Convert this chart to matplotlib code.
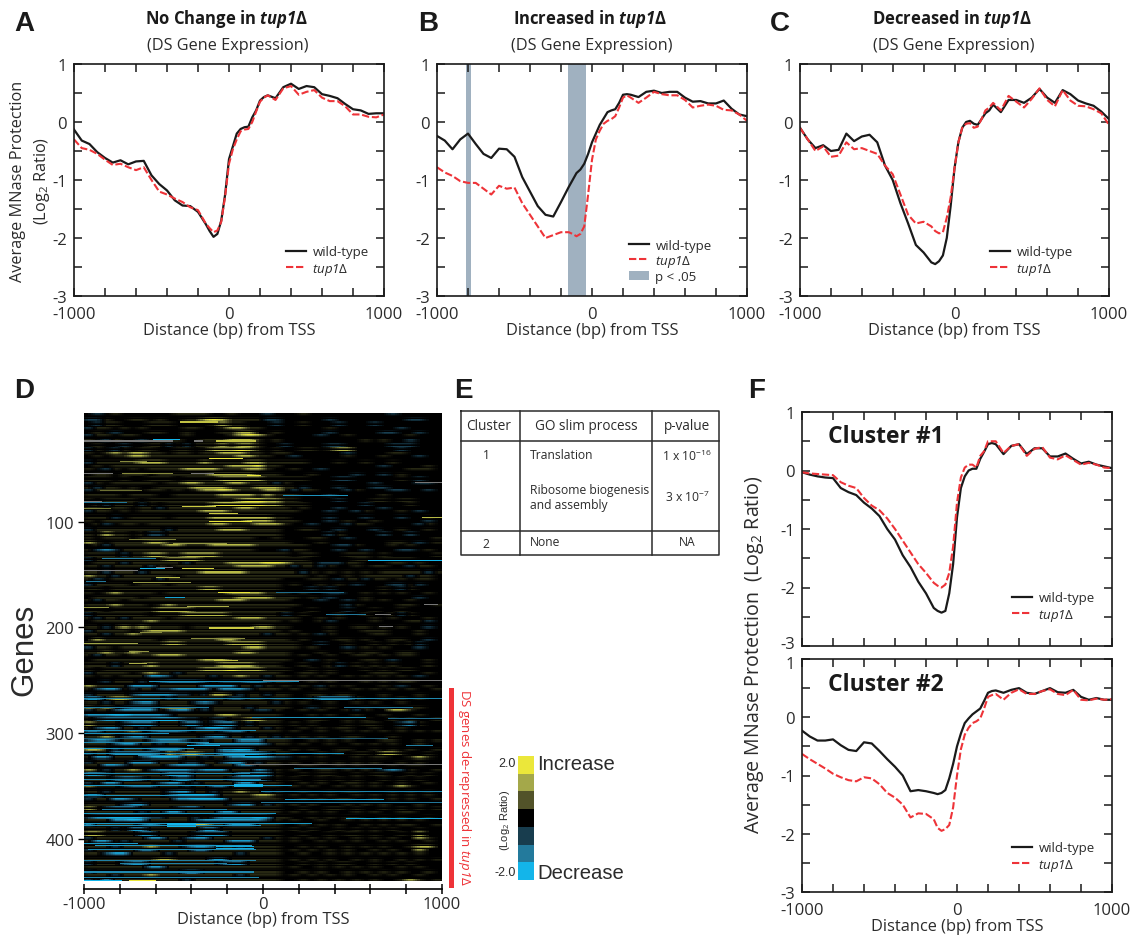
import numpy as np
import matplotlib
matplotlib.use('Agg')
import matplotlib.pyplot as plt
from matplotlib.colors import LinearSegmentedColormap, ListedColormap
from matplotlib.transforms import ScaledTranslation

plt.rcParams['font.family'] = ['Open Sans', 'DejaVu Sans']
plt.rcParams['mathtext.fontset'] = 'custom'
plt.rcParams['mathtext.rm'] = 'Open Sans'
plt.rcParams['mathtext.it'] = 'Open Sans:italic'
plt.rcParams['mathtext.cal'] = 'Open Sans:italic'
plt.rcParams['mathtext.bf'] = 'Open Sans:bold'
plt.rcParams['mathtext.bfit'] = 'Open Sans:italic:bold'

W, H = 1133, 937

# distance from TSS, one reading every 50 bp, every 25 bp around the dip
dist = [-1000,-950,-900,-850,-800,-750,-700,-650,-600,-550,-500,-450,-400,-350,-300,-250,-200,-150,
        -125,-100,-75,-50,-25,0,25,50,75,100,125,150,175,200,225,250,
        300,350,400,450,500,550,600,650,700,750,800,850,900,950,1000]

a_wt = [-0.13,-0.32,-0.38,-0.52,-0.62,-0.70,-0.66,-0.73,-0.68,-0.67,-0.92,-1.07,-1.18,-1.35,-1.44,-1.45,-1.55,-1.76,
        -1.88,-1.98,-1.93,-1.70,-1.25,-0.64,-0.42,-0.20,-0.12,-0.09,-0.08,0.08,0.20,0.37,0.43,0.46,
        0.41,0.60,0.66,0.57,0.62,0.60,0.48,0.45,0.41,0.31,0.22,0.20,0.14,0.15,0.15]
a_ko = [-0.30,-0.45,-0.48,-0.55,-0.65,-0.74,-0.72,-0.78,-0.83,-0.78,-1.00,-1.20,-1.25,-1.32,-1.38,-1.47,-1.52,-1.75,
        -1.83,-1.90,-1.87,-1.72,-1.28,-0.72,-0.47,-0.30,-0.16,-0.13,-0.12,0.00,0.18,0.35,0.42,0.46,
        0.38,0.58,0.62,0.47,0.52,0.55,0.42,0.36,0.36,0.27,0.13,0.13,0.09,0.08,0.13]
b_wt = [-0.24,-0.32,-0.47,-0.30,-0.20,-0.38,-0.55,-0.62,-0.46,-0.47,-0.60,-0.95,-1.20,-1.45,-1.60,-1.63,-1.38,-1.12,
        -1.00,-0.88,-0.82,-0.72,-0.55,-0.35,-0.20,-0.05,0.06,0.17,0.20,0.22,0.33,0.47,0.48,0.47,
        0.43,0.52,0.54,0.50,0.52,0.52,0.42,0.35,0.36,0.32,0.32,0.37,0.23,0.13,0.10]
b_ko = [-0.78,-0.87,-0.93,-1.02,-1.05,-1.05,-1.15,-1.25,-1.10,-1.15,-1.13,-1.40,-1.60,-1.80,-2.00,-1.95,-1.90,-1.90,
        -1.93,-1.97,-1.93,-1.80,-1.25,-0.65,-0.30,-0.15,-0.03,0.02,0.05,0.10,0.25,0.42,0.46,0.42,
        0.33,0.42,0.52,0.48,0.46,0.46,0.38,0.25,0.28,0.30,0.28,0.21,0.20,0.13,0.02]
c_wt = [-0.10,-0.30,-0.45,-0.40,-0.50,-0.48,-0.20,-0.33,-0.25,-0.22,-0.35,-0.75,-1.00,-1.40,-1.75,-2.12,-2.25,-2.42,
        -2.45,-2.40,-2.30,-2.00,-1.45,-0.80,-0.35,-0.10,0.00,0.02,-0.03,-0.05,0.05,0.15,0.20,0.30,
        0.17,0.38,0.38,0.33,0.42,0.57,0.42,0.33,0.55,0.48,0.37,0.32,0.28,0.18,0.05]
c_ko = [-0.10,-0.30,-0.50,-0.42,-0.60,-0.58,-0.35,-0.47,-0.45,-0.50,-0.55,-0.75,-0.90,-1.25,-1.60,-1.75,-1.72,-1.80,
        -1.88,-1.92,-1.90,-1.65,-1.30,-0.80,-0.35,-0.10,-0.03,-0.02,-0.10,-0.08,0.05,0.20,0.25,0.33,
        0.20,0.45,0.35,0.25,0.40,0.58,0.38,0.27,0.55,0.37,0.28,0.27,0.22,0.15,-0.05]
f1_wt = [-0.03,-0.07,-0.10,-0.12,-0.13,-0.30,-0.37,-0.42,-0.55,-0.65,-0.78,-1.00,-1.18,-1.45,-1.65,-1.90,-2.10,-2.35,
         -2.40,-2.43,-2.40,-2.10,-1.60,-0.80,-0.30,-0.10,0.00,0.03,0.03,0.20,0.32,0.45,0.47,0.45,
         0.28,0.42,0.45,0.28,0.38,0.38,0.24,0.24,0.29,0.20,0.12,0.15,0.10,0.07,0.04]
f1_ko = [-0.03,-0.05,-0.06,-0.07,-0.08,-0.20,-0.26,-0.30,-0.47,-0.60,-0.68,-0.82,-1.00,-1.20,-1.40,-1.60,-1.75,-1.92,
         -1.97,-2.00,-1.95,-1.75,-1.30,-0.55,-0.12,0.05,0.10,0.10,0.05,0.25,0.33,0.50,0.50,0.50,
         0.30,0.42,0.45,0.25,0.37,0.40,0.22,0.19,0.26,0.18,0.10,0.13,0.10,0.05,0.04]
f2_wt = [-0.23,-0.33,-0.40,-0.40,-0.38,-0.48,-0.56,-0.58,-0.43,-0.45,-0.58,-0.72,-0.85,-1.00,-1.27,-1.25,-1.27,-1.30,
         -1.32,-1.30,-1.25,-1.05,-0.80,-0.50,-0.28,-0.10,-0.02,0.05,0.10,0.15,0.28,0.42,0.45,0.46,
         0.42,0.47,0.50,0.42,0.40,0.45,0.50,0.43,0.42,0.47,0.35,0.30,0.33,0.30,0.30]
f2_ko = [-0.63,-0.72,-0.80,-0.88,-0.97,-1.03,-1.08,-1.10,-1.03,-1.05,-1.15,-1.30,-1.38,-1.50,-1.72,-1.65,-1.66,-1.75,
         -1.90,-1.95,-1.92,-1.85,-1.55,-1.00,-0.55,-0.30,-0.18,-0.10,-0.07,-0.02,0.15,0.35,0.38,0.40,
         0.30,0.42,0.48,0.40,0.40,0.45,0.48,0.40,0.38,0.47,0.30,0.29,0.32,0.30,0.31]

# significant windows in panel B
b_bands = [(-813, -778), (-153, -37)]

# heat map, hand: 40 columns of 50 bp, one line per 4 genes
# . none  , faint yellow  y yellow  Y bright yellow  - faint blue  b blue  B bright blue
heat_rows = [
    ".-.,......,,,,..,...-...,.........-.....",
    "--,..,,.,..,,yYy,,,,--.....-........--..",
    ".-,,...,,,....,y,,...-..,...-...-.......",
    "-,,.,.,....,,..,yy,,.......,.......-....",
    ".,.-...,,..,...,,yy..,.....-.....--..-..",
    "-,,.,,.....,....,yYy,.....-..,......,...",
    ",.-,..-.,,,..,,,yyy,.,.........,.,..-...",
    ".,..-..,,-,-,,,y,yy,..-....--.....---...",
    "-,.-,.,,..,,.,yyyYy,.,..,,.,yy.....-....",
    ",.,y,yy,,.,,.,,yyy,,.,,......-....,,....",
    ".,.,,yy,,,,,,,,,,yy,,..-.....,...,...-..",
    "-,,,,,yyy,,,,y,,,,yy,,,,,...,..,..,.....",
    ".,.,,,,,,,,,,,,,yyyY,,...........-....,.",
    ",.-,.,.,,,,yyyy,,,yy,..,..-.........,,,.",
    ".,,.,,,.,,,,,,yyyyy,,,...,....-..-.,....",
    ",,,.,..,,,.,,,,yyyyy,,,,,...--.....,.-..",
    "-,.,,,,,.,,yy,,,yy,,,-,.........-....--.",
    ",-,,.,..,,,,yyyy,,,yyy,,-...-...--......",
    "-,,,,,.,,.,.,yyYy,,,yy,-,,...-,...--..-.",
    ",,,,.,,,..,,,,,yyyy,y,,,...-.....,......",
    ",.,,,,.,,,,,,,,,,yYYyy,,....-...,,.,,...",
    ".,-,,,-,.,,,,,yYYYYYyy,,,......-....,...",
    ",,.,,.,,-,,,,,,,,yy,,,,.,...-....-......",
    "-,,.,.,,,,,,,yyy,,,,,,,,...-..-,...,.-..",
    ",,,-.,,,,.,,,,yyyyyyy,,....-...-...-..,.",
    ",.,,,,,,,,,,,,,,,,yyy,,,...-.,..,.....-.",
    ".,-.,,.,,,,,,,yy,,,yyy,..-...-,,.....-,.",
    "-,,,,,,,,-,,,,,yyy,,,,..,,..-...-..,..,.",
    ",.y,,.,--,,,,,,,,,,,,,.....-,....-..-...",
    ",.,,,.,,,,,,,,,,,,,..,...,,..-.........,",
    "y,.,,,,yy,,,,,,,,,,,,,,...,.......,,.-.,",
    ".,-,,,,,,yy,,,yyyyy,,,,,,...--,...,.,...",
    ",-b-,,,,,,,,,,,,,,,...-,,...-..-...--.,.",
    ",,,,-,,yy,,yyyy,,,,,,,,.,,...,,,.,.....,",
    "-,,,,,,,,yyyy,,,,,,,,,,,,.....,,.,,,,...",
    ".,,,-,,,,,,-,,,,yyyyYYy,,,---,,...,,.,..",
    ",,-,,,,-,.,,,,,,,yyyy,,-,,-,..,.,,..-,,.",
    ",,-,,,-,,,,,,yyyyy,,,,,,-,.,.,.,.,,,,,-,",
    "y,,-,,,,,,.,,,,,,,,,,,,,,.,..,.,,,,,-,,.",
    ",-.,,,,,-,,,,,,,,,,,,,...,,.-,,-,,.,.,,.",
    "-,,,,.,,,.,,,,,,,,,,,,.,..,.,.-...--,-..",
    ",,.,,,,,,,,,,yy,,,,,,,...-.-.....,.-,...",
    ",.,y,,,,.,,,,,,,yyyy,,,.,..--..,.,.,..,.",
    ".,,,,,.,,,,,,,,,,yyyy,,,.,.-...,.....-..",
    ",-,,.,,,,,,,,,,yyy,,,,,...-..-.,.,..,...",
    ",,,y,,,.,y,,,,,,,,,,,,,,.....-,....,,..,",
    ",,.,,,,,yyyy,,,,,,,,,,,..,...-..,..,....",
    "-,,,,,,.,,,yyyyy,,,,,,-.,...,..,..,-,...",
    ",-,,-,,,,.,,,,,,,yyy,,,,..,.,...,.,...,.",
    ".,,,,,,y,,,,,,,,,,,,,,.,..,-....,...,,-.",
    ",,-,y,y,,,,.,,,,,,,yy,,....,..,,.,.,..-.",
    "-,,,,.,yyyy,,,,,,,,,,,.,...,...,,,...,..",
    ",,-,,y,,,,,,,,,,,,,,-,,.,.-,....,,...,..",
    ".y,,,,,,.,,,,,,yy,,,,,,.,...,,.,..,,..-.",
    ",,,,,,,,,yy,,,,,yyyy,,,,..-..,..,.,.,-..",
    "-,,.,,,,,,,,,,,,,,yy,,,,.,...-.,.,...-..",
    ",,y,,y,,,,,,,,,,,yy,,,,...,..,.,,..,,...",
    ",-,,.,,,yyy,,,,,,,,,,,,.,..,..,,.,.,,...",
    ".,,,,,,,,,,,,yyy,,,,,,,..-.,...,,.-...,.",
    ",,,-,,,y,,,,,,,yyyy,,,..,..,-.,.,.,...,.",
    ",.,,,,,,,,,,,yyyYyyy,,,..,.,...,.,.,,...",
    "-,,,,.,y,,-,,,,,,,,,,,..,,.,....,,,...,.",
    ",.,.,,,bb-,,,,-,,y,,-,,.,.,..,.,.,.,.-..",
    "..-,,,-,-bbbb-,---bb-,,..,.,...,.,.,,...",
    "y,,,,bbb,,,,,bbbb,,-,.,.,.-,.,...,.-..,.",
    ",-bb,-,,--bbbb,bbb-,,,.,..,...,.,.,.,..,",
    "-,,,,-bbbb--,-yy,-,,-,,..,,.,,...,...,..",
    "bb,yy,,,,-,,,,,,--,,.,,..,bbbb,..,.,.,..",
    ",,-,,-bb,,,,-b-,,,,,,-,.,..,..,.,..,....",
    "y,y,-bbb,yyy,-,,,,-,,,,..-.,...,.,..,,..",
    "-,,-bbbb,-bb,-,,,,,--,..,.,..,-,..yy,...",
    "bbbBBbbbb-,,,,,yy,,,,,...,.,..,..,...,..",
    ",-bbbbbbBBb--,--,,yy,,...,,..,.,..,.,..,",
    "y,,,-bbb,,,bb,-bb,-,,,.,.,...,.,,..-b,..",
    ",-bb,,-,,,,,-bBb-,,,-,..,.,.,,..,..,....",
    "bb,,,y,-bbb-,,,-bb,,,,.,..,..,.,.,.,.,.,",
    ",,y,-bb,,,,,,-bb,,-,,-,.,.,..,,...,.....",
    "-bb-,,,-bbb-,-,,,bbb,,,..,.,.,...,,..,.,",
    ",,,-bb,,-,,,-bbbbbbb-,,.,..,..,.,.,..,..",
    "yy,-,,,-bbb,,,,bbBb,,,.,.,..,,..,.,.,..,",
    "-,,bbbbb-y,yy,,bBBBb-,,...,.,.,,.yy,..,.",
    ",bb,,,-bBBb,,-,,bbBBb--.,.,...,.,,..,y,.",
    "-,,,,bbb,,,--,,-bb,-,,.,..,.,.,.,..,.,..",
    ",,bb-,,,,-bbb-,,,bb,,,..,,..,.,...,.,,..",
    "y,-,,y,-bbbb-bbb,,,b-,.,..,,.,.,.-b-,..,",
    "bb-,,,,,,bbb,,,,,bbBb,..,.,,..,.,,..,.,.",
    ",,,-bb-,,,bb,,,,-bbb-,.,..,.,.,..,.,.,..",
    "-,bb,,,,-bb,-,,,,bb,,,..,.,..,,.,..,..,.",
    "y,,,-bbb,,,-,,bb,,,,,,.,.,..,.,.,.,y,...",
    ",,-,,,,,,-bb,,-,,y,,-,..,..,.,,...,.,.,.",
    "bb,,,,,,,-bBBBb,,,,yy,.,.,.,..,.,.,.,.,.",
    "-,,bb-,,,,bbBBBb,,,,,,..,.,.,,..,.,.,..,",
    ",,,,-bb,,,,,,,,,-bb,-,.,.,...,.,.,...,..",
    "y,-bbb,,,,-bb,,,,,,,,,..,..,,.,..,.,.,.,",
    ",,,,,,-,,bb,,,,bb,,,,,.,.,.,..,.,..,,...",
    "-bbBBBb--,,,-,-bbbbBb,,..,.,.,,..,.,..,.",
    ",,,bbBb,,,,,-bbbbbbb-,.,..,..,.,.,.,.,..",
    "b,,,,,-b-,,yyy,,bbb,,,..,.,.,..,.,.,,..,",
    ",,,-,bb,,,,,,bb,,,,,,,.,.,..,.,.,.,..,..",
    "yy,,,,bb,,,,-bbb,,,,,,..,..,.,,.,..,.y..",
    "-,,,,,,bb,,-bb,,,,,,-,.,.,.,..,.,.,..y,.",
    ",bb,-,,,,,-,,,,,bbb,,,.,..,.,.,..,.,..,.",
    ",,,-,,,y,,,-bb-,,-,,,,..,.,..,.,.,..,yy.",
    "-,,,,,bb,,,,bb,,,,,,,,.,.,.,.,..,.,..y..",
    ",,-bb,,,,-,,,,,,,-,,,,..,..,.,.,.,.,.,..",
    ",,,,,,,,yy,,,,bb,,,,,,.,.,.,..,.,..,.,.,",
    "-,,,-bb,,,,,,,,-bb,,,,..,.,.,,..,.,.,...",
    ",,,,,,,bb,,,,,,,,,,,,,.,..,.,.,.,..,.,..",
    "-,,,,,,,,,,bb,,,,,,,,,..,.,..,.,.,.,..,.",
    ",,,-,,,y,,,,,,,,,-,,,,.,.,.,.,..,.,..,..",
    "-,b,,,,,,,,-,,,,,,,,,,..,.,.,.,.,..,y,.,",
]
heat_levels = {'.': 0, ',': 0.32, 'y': 1.5, 'Y': 2.2, '-': -0.7, 'b': -1.7, 'B': -2.3}
# strength of the 4 genes inside one line of heat_rows, and which gene is strongest, line by line
row_fade = [1.0, 0.7, 0.25, 0.0]
row_shift = [0, 2, 1, 3, 2, 0, 3, 1, 1, 3, 0, 2, 3]

# single bright genes: gene, from bp, to bp, value
heat_lines = [
    (22,-603,-454,-2),(75,115,487,-1.6),(136,590,1000,-2),(144,-687,-547,-2),(171,-538,-435,-1.8),
    (187,357,580,-1.3),(166,77,450,-1.2),(56,-81,-6,2),(166,-240,-72,2),(99,-295,-53,2),
    (144,-445,-267,1.8),(40,-295,-109,2),(5,-454,-240,1.6),(23,-258,-35,1.6),(85,-445,-258,1.7),
    (95,888,1000,1.5),(92,-295,-130,1.7),(200,-295,-50,1.7),(231,-275,-130,1.6),(181,-1000,-855,1.2),
    (81,-1000,-760,-1.3),(134,-890,-600,-1.4),(156,-985,-870,-1.3),
    (42,-800,-650,1.1),(54,-780,-500,1.1),(70,-910,-670,0.9),(87,-1000,-840,1.0),(116,-740,-480,1.0),
    (157,-720,-390,1.2),(152,-590,-460,1.5),(204,-680,-560,1.1),(215,-1000,-690,1.3),(222,-750,-630,1.2),
    (234,-750,-650,1.4),(120,-500,-200,1.2),(180,-420,-180,1.4),(210,-400,-100,1.1),
    (251,-630,200,-1.6),(267,-1000,1000,-1.5),(275,450,840,-1.3),(275,-1000,-300,-1.4),
    (285,-53,580,-1.6),(286,700,1000,-1.2),(297,-1000,-30,-1.6),(305,-1000,700,-1),
    (311,-420,-230,-2),(311,800,950,-1.4),(319,-1000,450,-1.6),(333,180,670,-1.3),
    (349,-1000,170,-1.7),(349,-160,10,-2),(355,-10,1000,-1.5),(362,130,680,-1.7),(365,-10,1000,-1.3),
    (376,-1000,80,-1.7),(380,470,1000,-1.9),(385,-1000,280,-1.7),(385,-530,-370,-2),
    (406,-930,-60,-1.7),(420,-1000,-30,-1.4),(439,-1000,-780,-2),(439,-750,-590,2),
    (300,-1000,-520,-1.6),(308,-1000,-300,-1.5),(314,-1000,-380,-1.6),(321,-700,-100,-1.3),
    (338,-1000,-70,-1.5),(343,-1000,-10,-1.5),(359,-1000,-320,-1.6),(372,-900,-200,-1.4),
    (387,-1000,-10,-1.6),(386,-530,-370,-2),(388,-530,-370,-2),(404,-1000,-690,-1.7),
    (410,-970,-30,-1.5),(407,-260,-40,-1.9),(409,-260,-40,-1.9),(423,-800,-200,-1.4),
    (431,-1000,-50,-1.5),(436,-1000,-20,-1.5),(348,-160,10,-2),(350,-160,10,-1.9),
]
# missing stretches, drawn grey: gene, from bp, to bp
heat_missing = [
    (23,-1000,-490),(23,-380,-330),(54,-1000,-830),(54,-390,-270),(62,850,1000),(80,-1000,-900),
    (146,-1000,-700),(143,-590,-490),(178,900,975),(187,630,715),(199,660,725),
    (250,0,1000),(329,-90,1000),
]
# legend of the heat map, from +2 down to -2
scale_colors = ['#ebe73a', '#a4a84a', '#525329', '#000000', '#183d4e', '#237a9c', '#13b5ea']

table_header = ['Cluster', 'GO slim process', 'p-value']
table_terms = ['Translation', 'Ribosome biogenesis\nand assembly', 'None']
table_pvals = ['1 x 10$^{-16}$', '3 x 10$^{-7}$', 'NA']

BLACK = '#1a1a1a'
RED = '#ee3338'
GREY = '#2b2b2b'
KO = r'$\mathcal{tup1}$Δ'

fig = plt.figure(figsize=(W / 100, H / 100), dpi=100)


def add_axes(x0, y0, x1, y1):
    return fig.add_axes([x0 / W, 1 - y1 / H, (x1 - x0) / W, (y1 - y0) / H])


def ftext(x, y, s, **kw):
    kw.setdefault('color', GREY)
    kw.setdefault('ha', 'center')
    kw.setdefault('va', 'center')
    return fig.text(x / W, 1 - y / H, s, **kw)


def profile(box, wt, ko, xlabels=True, leg=None, bands=()):
    ax = add_axes(*box)
    for b in bands:
        ax.axvspan(b[0], b[1], color='#a0b1c0', lw=0, label='p < .05' if b is bands[0] else None)
    ax.plot(dist, wt, color=BLACK, lw=1.6, label='wild-type')
    ax.plot(dist, ko, color=RED, lw=1.5, ls=(0, (3.5, 1.3)), label=KO)
    ax.set_xlim(-1000, 1000)
    ax.set_ylim(-3, 1)
    ax.set_xticks(range(-1000, 1001, 200))
    ax.set_xticklabels(['-1000', '', '', '', '', '0', '', '', '', '', '1000'] if xlabels else [])
    ax.set_yticks(np.arange(-3, 1.01, 0.5))
    ax.set_yticklabels(['-3', '', '-2', '', '-1', '', '0', '', '1'])
    ax.tick_params(direction='in', length=5.5, width=1.1, top=True, right=True, labelsize=12,
                   labelcolor=GREY, color=BLACK, pad=5)
    ax.tick_params(axis='x', pad=7)
    for s in ax.spines.values():
        s.set_linewidth(1.2)
        s.set_color(BLACK)
    if xlabels:
        ax.set_xlabel('Distance (bp) from TSS', fontsize=11.8, color=GREY, labelpad=0)
    if leg:
        h, l = ax.get_legend_handles_labels()
        order = [l.index('wild-type'), l.index(KO)]
        if bands:
            order.append(l.index('p < .05'))
        ax.legend([h[i] for i in order], [l[i] for i in order], loc='lower left',
                  bbox_to_anchor=((leg[0] - box[0]) / (box[2] - box[0]), (box[3] - leg[1]) / (box[3] - box[1])),
                  frameon=False, fontsize=9.5, handlelength=1.55, labelspacing=0.08 if bands else 0.2,
                  handletextpad=0.45, borderpad=0, borderaxespad=0, labelcolor=GREY)
    return ax


profile((74, 65, 384, 297), a_wt, a_ko, leg=(286, 278))
profile((437, 65, 747, 297), b_wt, b_ko, leg=(629, 284), bands=b_bands)
profile((800, 65, 1109, 297), c_wt, c_ko, leg=(990, 278))
f1 = profile((802, 413, 1112, 647), f1_wt, f1_ko, xlabels=False, leg=(1012, 624))
f2 = profile((802, 660, 1112, 893), f2_wt, f2_ko, leg=(1012, 874))
f1.text(0.085, 0.897, 'Cluster #1', transform=f1.transAxes, fontsize=16.5, fontweight='bold',
        color=BLACK, va='center')
f2.text(0.085, 0.893, 'Cluster #2', transform=f2.transAxes, fontsize=16.5, fontweight='bold',
        color=BLACK, va='center')
# the -3 and the 1 of the two stacked panels sit clear of each other
lab = f1.get_yticklabels()[0]
lab.set_transform(lab.get_transform() + ScaledTranslation(0, 4 / 72 * 0.72 * 1.0, fig.dpi_scale_trans))
lab = f2.get_yticklabels()[-1]
lab.set_transform(lab.get_transform() + ScaledTranslation(0, -3 / 100, fig.dpi_scale_trans))

titles = [(226, 'No Change in'), (590, 'Increased in'), (952, 'Decreased in')]
for x, t in titles:
    ftext(x, 19, t + r' $\mathbfit{tup1}$Δ', fontsize=12, fontweight='bold', color=BLACK)
    ftext(x + 2, 46, '(DS Gene Expression)', fontsize=11.7)

for x, y, s in [(24, 24, 'A'), (428, 24, 'B'), (780, 24, 'C'), (24, 391, 'D'), (463, 391, 'E'), (757, 391, 'F')]:
    ftext(x, y, s, fontsize=20, fontweight='bold', color=BLACK, family='Liberation Sans')

ftext(18, 181, 'Average MNase Protection', rotation=90, fontsize=11.7)
ftext(42, 181, '(Log$_2$ Ratio)', rotation=90, fontsize=11.7)
ftext(754, 655, 'Average MNase Protection  (Log$_2$ Ratio)', rotation=90, fontsize=14.1)

# heat map
ax = add_axes(84, 414, 442, 882)
grid = np.array([[heat_levels[c] for c in r.ljust(40, '.')[:40]] for r in heat_rows], dtype=float)
heat = np.zeros((443, 40))
for r in range(grid.shape[0]):
    shift = row_shift[r % len(row_shift)]
    for k in range(4):
        g = r * 4 + k
        if g < 443:
            heat[g] = grid[r] * row_fade[(k + shift) % 4]
heat = np.repeat(heat, 4, axis=1)
# soften the 50 bp steps along each gene
for i in range(heat.shape[0]):
    heat[i] = np.convolve(heat[i], np.ones(5) / 5, mode='same')
for g, x0, x1, v in heat_lines:
    heat[g + 3, (x0 + 1000) * 160 // 2000:(x1 + 1000) * 160 // 2000] = v
for g, x0, x1 in heat_missing:
    heat[g + 3, (x0 + 1000) * 160 // 2000:(x1 + 1000) * 160 // 2000] = np.nan
cmap = LinearSegmentedColormap.from_list('yb', scale_colors[::-1])
cmap.set_bad('#777777')
ax.imshow(heat, cmap=cmap, vmin=-2, vmax=2, aspect='auto', extent=[-1000, 1000, 440, -3],
          interpolation='nearest')
ax.set_xticks(range(-1000, 1001, 200))
ax.set_xticklabels(['-1000', '', '', '', '', '0', '', '', '', '', '1000'])
ax.set_yticks([100, 200, 300, 400])
for s in ['top', 'right', 'left']:
    ax.spines[s].set_visible(False)
ax.spines['bottom'].set_position(('outward', 5.5))
ax.spines['bottom'].set_linewidth(1.2)
ax.tick_params(axis='x', direction='inout', length=7, width=1.1, labelsize=12, labelcolor=GREY, pad=2)
ax.tick_params(axis='y', length=4, width=1, labelsize=12, labelcolor=GREY, pad=3)
ax.set_xlabel('Distance (bp) from TSS', fontsize=11.8, color=GREY, labelpad=-1)
ftext(24, 650, 'Genes', rotation=90, fontsize=22.5, family='Liberation Sans')

# red bar beside the de-repressed genes
fig.add_artist(plt.Rectangle((449 / W, 1 - 889 / H), 4.5 / W, 200 / H, color='#ee3338', lw=0))
ftext(465, 787, r'DS genes de-repressed in ' + KO, rotation=-90, fontsize=9.5, color='#ee3338')

# colour scale
sc = add_axes(518, 757, 534, 881)
sc.pcolormesh(np.arange(7).reshape(-1, 1), cmap=ListedColormap(scale_colors))
sc.invert_yaxis()
sc.axis('off')
ftext(516, 764, '2.0', ha='right', fontsize=9, family='Liberation Sans')
ftext(516, 873, '-2.0', ha='right', fontsize=9, family='Liberation Sans')
ftext(505, 820, '(Log$_2$ Ratio)', rotation=90, fontsize=8, family='Liberation Sans')
ftext(537, 765, 'Increase', ha='left', fontsize=14.6, family='Liberation Sans')
ftext(537, 874, 'Decrease', ha='left', fontsize=14.6, family='Liberation Sans')

# table E, in pixel units
tb = add_axes(0, 0, W, H)
tb.set_xlim(0, W)
tb.set_ylim(H, 0)
tb.axis('off')
tb.patch.set_alpha(0)
tb.plot([461, 719, 719, 461, 461], [412, 412, 556, 556, 412], color=GREY, lw=1.1)
for x in [520, 652]:
    tb.plot([x, x], [412, 556], color=GREY, lw=1.1)
for y in [442, 532]:
    tb.plot([461, 719], [y, y], color=GREY, lw=1.1)
for x, s in zip([489, 586, 687], table_header):
    tb.text(x, 427, s, ha='center', va='center', fontsize=9.8, color=GREY)
tb.text(486, 456, '1', ha='center', va='center', fontsize=8.7, color=GREY)
tb.text(486, 545, '2', ha='center', va='center', fontsize=8.7, color=GREY)
for y, s in zip([456, 498, 543], table_terms):
    tb.text(530, y, s, ha='left', va='center', fontsize=8.7, color=GREY, linespacing=1.15)
for y, s in zip([456, 497, 543], table_pvals):
    tb.text(687, y, s, ha='center', va='center', fontsize=8.7, color=GREY)

fig.savefig('out.png', dpi=100)
